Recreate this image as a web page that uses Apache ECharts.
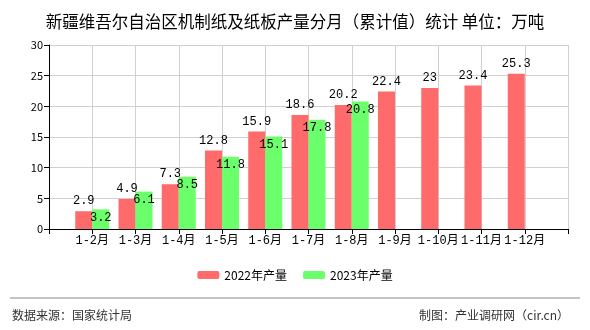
<!DOCTYPE html>
<html>
<head>
<meta charset="utf-8">
<script src="https://cdn.jsdelivr.net/npm/echarts@6/dist/echarts.min.js"></script>
<style>
  html, body { margin: 0; padding: 0; background: #fff; }
  #chart { width: 590px; height: 330px; }
</style>
</head>
<body>
<div id="chart"></div>
<script>
// Cumulative monthly output of machine-made paper and paperboard (10k tonnes)
const categories = ['', '1-2月', '1-3月', '1-4月', '1-5月', '1-6月', '1-7月', '1-8月', '1-9月', '1-10月', '1-11月', '1-12月', ''];
const output2022 = [null, 2.9, 4.9, 7.3, 12.8, 15.9, 18.6, 20.2, 22.4, 23, 23.4, 25.3, null];
const output2023 = [null, 3.2, 6.1, 8.5, 11.8, 15.1, 17.8, 20.8, null, null, null, null, null];
const yTicks = { min: 0, max: 30, interval: 5 };

const monoFont = '"Liberation Mono", "DejaVu Sans Mono", "Noto Sans CJK SC", monospace';
const cjkFont = '"Noto Sans CJK SC", "Noto Sans", sans-serif';

const chart = echarts.init(document.getElementById('chart'));
chart.setOption({
  backgroundColor: '#fff',
  animation: false,
  title: {
    text: '新疆维吾尔自治区机制纸及纸板产量分月（累计值）统计 单位：万吨',
    left: 'center',
    top: 8,
    textStyle: { fontFamily: cjkFont, fontSize: 16.5, fontWeight: 'normal', color: '#000' }
  },
  legend: {
    bottom: 44,
    left: 'center',
    itemWidth: 22,
    itemHeight: 8,
    itemGap: 16,
    textStyle: { fontFamily: cjkFont, fontSize: 12, color: '#000' },
    data: ['2022年产量', '2023年产量']
  },
  grid: { left: 49, right: 22, top: 45, bottom: 101 },
  xAxis: {
    type: 'category',
    data: categories,
    boundaryGap: false,
    axisLine: { lineStyle: { color: '#000' } },
    axisTick: { show: true, length: 5, lineStyle: { color: '#000' } },
    axisLabel: { interval: 0, fontFamily: monoFont, fontSize: 12, color: '#000', margin: 6 },
    splitLine: { show: true, lineStyle: { color: '#d0d0d0' } }
  },
  yAxis: {
    type: 'value',
    min: yTicks.min,
    max: yTicks.max,
    interval: yTicks.interval,
    axisLine: { show: true, lineStyle: { color: '#000' } },
    axisTick: { show: true, length: 5, lineStyle: { color: '#000' } },
    axisLabel: { fontFamily: cjkFont, fontSize: 11, color: '#000', margin: 6 },
    splitLine: { show: true, lineStyle: { color: '#d0d0d0' } }
  },
  series: [
    {
      name: '2022年产量',
      type: 'bar',
      data: output2022,
      barWidth: 17,
      barGap: '0%',
      itemStyle: { color: '#ff6b6b' },
      label: {
        show: true,
        position: 'top',
        distance: 4,
        fontFamily: monoFont,
        fontSize: 12,
        color: '#000'
      }
    },
    {
      name: '2023年产量',
      type: 'bar',
      data: output2023,
      barWidth: 17,
      barGap: '0%',
      itemStyle: { color: '#6bff6b' },
      label: {
        show: true,
        position: 'insideTop',
        distance: 2,
        fontFamily: monoFont,
        fontSize: 12,
        color: '#000'
      }
    }
  ],
  graphic: [
    {
      type: 'line',
      shape: { x1: 10, y1: 298, x2: 580, y2: 298 },
      style: { stroke: '#888', lineWidth: 1 }
    },
    {
      type: 'text',
      left: 12,
      top: 309,
      style: { text: '数据来源：国家统计局', font: '12px ' + cjkFont, fill: '#333' }
    },
    {
      type: 'text',
      right: 21,
      top: 309,
      style: { text: '制图：产业调研网（cir.cn）', font: '12px ' + cjkFont, fill: '#333' }
    }
  ]
});
</script>
</body>
</html>
